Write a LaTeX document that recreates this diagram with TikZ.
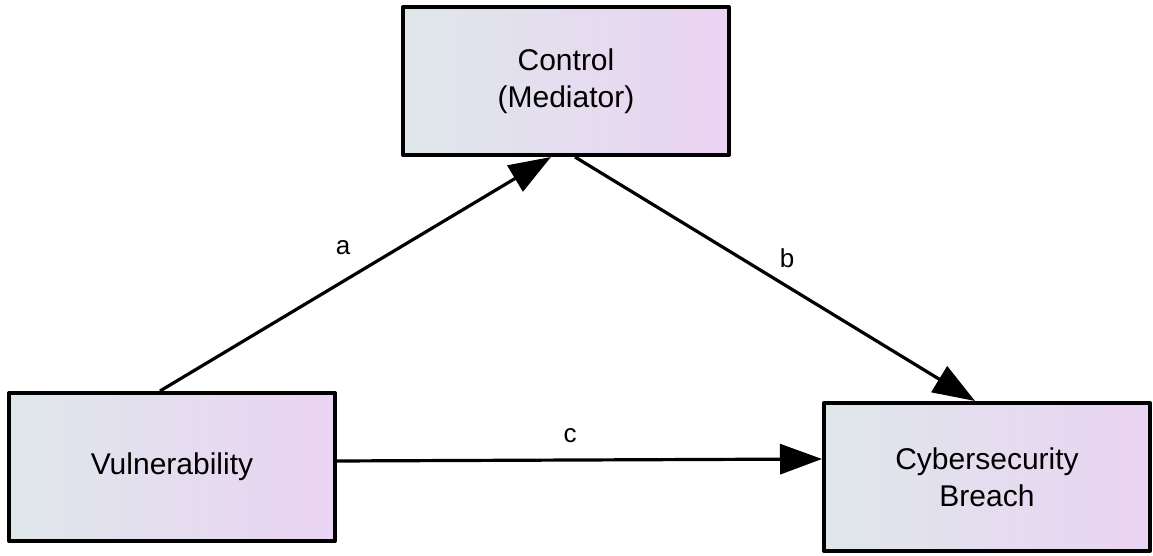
\documentclass[tikz,border=0pt]{standalone}
\usepackage{fontspec}
\setmainfont{Liberation Sans}
\usetikzlibrary{arrows.meta}
\definecolor{boxleft}{HTML}{DFE7EA}
\definecolor{boxright}{HTML}{EAD3F3}
\begin{document}
\begin{tikzpicture}[x=0.5pt,y=0.5pt,line join=round,
	varbox/.style={draw,line width=2pt,left color=boxleft,right color=boxright,
		minimum width=163pt,minimum height=74pt,align=center,
		font=\fontsize{15}{18.5}\selectfont},
	path/.style={line width=1.6pt,-{Triangle[length=21pt,width=15pt]}},
	lab/.style={font=\fontsize{13}{15}\selectfont}]
			\useasboundingbox (0,0) rectangle (1153,556);
			\node[varbox] (ctrl) at (566,475) {Control\\(Mediator)};
			\node[varbox] (vul) at (172,89) {Vulnerability};
			\node[varbox] (breach) at (987,79) {Cybersecurity\\Breach};
			\draw[path] ([xshift=-6pt]vul.north)--([xshift=-7.5pt]ctrl.south);
			\draw[path] ([xshift=4.5pt]ctrl.south)--([xshift=-6pt]breach.north);
			\draw[path] ([yshift=3pt]vul.east)--([yshift=9pt]breach.west);
			\node[lab] (la) at (343,308) {a};
			\node[lab] (lb) at (787,298) {b};
			\node[lab] (lc) at (570,120) {c};
	\end{tikzpicture}
\end{document}
